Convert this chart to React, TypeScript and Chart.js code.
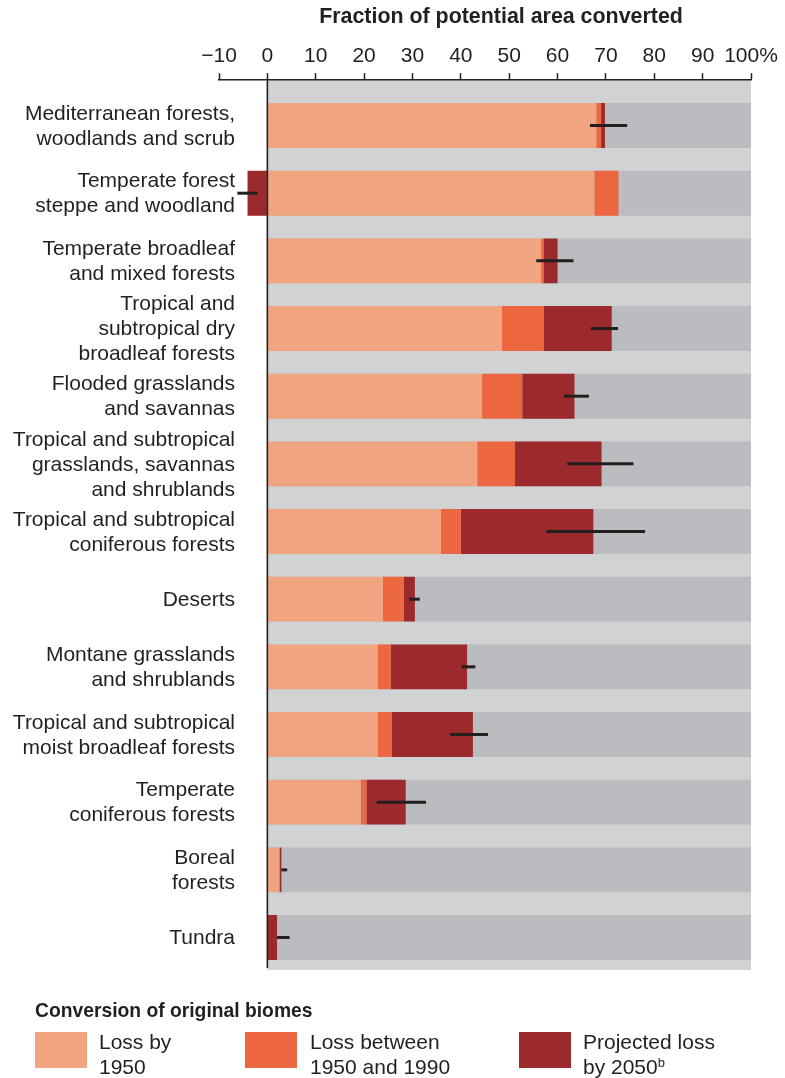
import React, { useEffect, useRef } from "react";
import { Chart, registerables } from "chart.js";

Chart.register(...registerables);

// ---------- data ----------
const biomeLabels: string[][] = [
  ["Mediterranean forests,", "woodlands and scrub"],
  ["Temperate forest", "steppe and woodland"],
  ["Temperate broadleaf", "and mixed forests"],
  ["Tropical and", "subtropical dry", "broadleaf forests"],
  ["Flooded grasslands", "and savannas"],
  ["Tropical and subtropical", "grasslands, savannas", "and shrublands"],
  ["Tropical and subtropical", "coniferous forests"],
  ["Deserts"],
  ["Montane grasslands", "and shrublands"],
  ["Tropical and subtropical", "moist broadleaf forests"],
  ["Temperate", "coniferous forests"],
  ["Boreal", "forests"],
  ["Tundra"],
];

const lossBy1950 = [68.0, 67.6, 56.6, 48.5, 44.4, 43.4, 35.9, 23.9, 22.8, 22.8, 19.3, 2.5, 0];
const loss1950to1990 = [1.0, 5.0, 0.5, 8.6, 8.3, 7.8, 4.1, 4.3, 2.7, 2.9, 1.2, 0, 0];
const projectedLoss2050 = [0.8, -4.1, 2.9, 14.1, 10.8, 17.9, 27.4, 2.3, 15.8, 16.8, 8.1, 0.4, 2.0];
const errorLow = [66.7, -6.2, 55.6, 66.9, 61.3, 62.0, 57.7, 29.3, 40.2, 37.8, 22.6, 2.9, 2.0];
const errorHigh = [74.4, -2.0, 63.3, 72.5, 66.5, 75.7, 78.1, 31.5, 43.0, 45.6, 32.8, 4.1, 4.6];
const potentialArea = [100, 100, 100, 100, 100, 100, 100, 100, 100, 100, 100, 100, 100];

const xTickValues = [-10, 0, 10, 20, 30, 40, 50, 60, 70, 80, 90, 100];

const axisTitle = "Fraction of potential area converted";
const legendTitle = "Conversion of original biomes";

// ---------- styles ----------
const FONT = '"Liberation Sans", Arial, Helvetica, sans-serif';
const TEXT = "#231f20";
const C_1950 = "#f0a580";
const C_1990 = "#ec6640";
const C_2050 = "#9c292c";
const C_REMAIN = "#bbbcbf";
const C_BAND = "#d1d2d4";

const toPoints = (arr: number[]) => arr.map((v, i) => ({ x: v, y: i }));

const overlayPlugin = {
  id: "biomeOverlay",
  beforeDatasetsDraw(chart: any) {
    const { ctx, chartArea, scales } = chart;
    const xs = scales.x;
    const x0 = xs.getPixelForValue(0);
    const x100 = xs.getPixelForValue(100);
    ctx.save();
    ctx.fillStyle = C_BAND;
    ctx.fillRect(x0, chartArea.top, x100 - x0, chartArea.bottom - chartArea.top);
    ctx.restore();
  },
  afterDatasetsDraw(chart: any) {
    const { ctx, chartArea, scales } = chart;
    const xs = scales.x;
    const ys = scales.y;
    ctx.save();
    // zero line
    const x0 = xs.getPixelForValue(0);
    ctx.strokeStyle = TEXT;
    ctx.lineWidth = 1.6;
    ctx.beginPath();
    ctx.moveTo(x0, chartArea.top);
    ctx.lineTo(x0, chartArea.bottom - 2);
    ctx.stroke();
    // error bars
    ctx.lineWidth = 3;
    ctx.lineCap = "butt";
    for (let i = 0; i < errorLow.length; i++) {
      const y = ys.getPixelForValue(i);
      ctx.beginPath();
      ctx.moveTo(xs.getPixelForValue(errorLow[i]), y);
      ctx.lineTo(xs.getPixelForValue(errorHigh[i]), y);
      ctx.stroke();
    }
    ctx.restore();
  },
  afterDraw(chart: any) {
    const { ctx, chartArea, scales } = chart;
    const ys = scales.y;
    ctx.save();
    ctx.font = `21px ${FONT}`;
    ctx.fillStyle = TEXT;
    ctx.textAlign = "right";
    ctx.textBaseline = "middle";
    const lh = 25;
    const xRight = chartArea.left + 16;
    biomeLabels.forEach((lines, i) => {
      const yc = ys.getPixelForValue(i) + 1;
      const start = yc - ((lines.length - 1) * lh) / 2;
      lines.forEach((t, k) => ctx.fillText(t, xRight, start + k * lh));
    });
    ctx.restore();
  },
};

const legendItems = [
  { color: C_1950, lines: ["Loss by", "1950"], boxX: 35, textX: 99 },
  { color: C_1990, lines: ["Loss between", "1950 and 1990"], boxX: 245, textX: 310 },
  { color: C_2050, lines: ["Projected loss", "by 2050"], boxX: 519, textX: 583, sup: "b" },
];

export default function App() {
  const canvasRef = useRef<HTMLCanvasElement>(null);

  useEffect(() => {
    document.body.style.margin = "0";
    Chart.defaults.font.family = FONT;
    const canvas = canvasRef.current;
    if (!canvas) return;
    const barOpts = { categoryPercentage: 0.663, barPercentage: 1, borderWidth: 0 };
    const chart = new Chart(canvas, {
      type: "bar",
      data: {
        datasets: [
          { label: "Loss by 1950", data: toPoints(lossBy1950), backgroundColor: C_1950, stack: "loss", order: 0, ...barOpts },
          { label: "Loss between 1950 and 1990", data: toPoints(loss1950to1990), backgroundColor: C_1990, stack: "loss", order: 0, ...barOpts },
          { label: "Projected loss by 2050", data: toPoints(projectedLoss2050), backgroundColor: C_2050, stack: "loss", order: 0, ...barOpts },
          { label: "Potential area", data: toPoints(potentialArea), backgroundColor: C_REMAIN, stack: "bg", grouped: false, order: 1, ...barOpts } as any,
        ],
      },
      options: {
        indexAxis: "y",
        responsive: false,
        animation: false,
        events: [],
        layout: { padding: { left: 219, right: 34, top: 40, bottom: 108 } },
        plugins: { legend: { display: false }, tooltip: { enabled: false }, title: { display: false } },
        scales: {
          x: {
            type: "linear",
            position: "top",
            min: -10,
            max: 100,
            stacked: true,
            offset: false,
            afterBuildTicks: (scale: any) => {
              scale.ticks = xTickValues.map((v) => ({ value: v }));
            },
            grid: { drawOnChartArea: false, drawTicks: true, tickLength: 7, tickColor: TEXT, tickWidth: 1.5, offset: false } as any,
            border: { display: true, color: TEXT, width: 1.5, z: 1 } as any,
            ticks: {
              padding: 4,
              color: TEXT,
              font: { size: 21, family: FONT },
              maxRotation: 0,
              autoSkip: false,
              callback: (v: any) => {
                const n = Number(v);
                if (n < 0) return "\u2212" + Math.abs(n);
                if (n === 100) return "100%";
                return String(n);
              },
            },
          },
          y: {
            type: "linear",
            display: false,
            reverse: true,
            offset: false,
            min: -0.67,
            max: 12.48,
            stacked: true,
            ticks: { stepSize: 1, includeBounds: false },
            grid: { display: false, offset: false },
          },
        },
      },
      plugins: [overlayPlugin],
    } as any);
    return () => chart.destroy();
  }, []);

  return (
    <div style={{ position: "relative", width: 785, height: 1078, fontFamily: FONT, color: TEXT, overflow: "hidden" }}>
      <canvas ref={canvasRef} width={785} height={1078} style={{ position: "absolute", left: 0, top: 0 }} />
      <div
        style={{
          position: "absolute",
          left: 501,
          top: 4,
          transform: "translateX(-50%)",
          whiteSpace: "nowrap",
          fontWeight: "bold",
          fontSize: 21.4,
          lineHeight: "24px",
        }}
      >
        {axisTitle}
      </div>
      <div
        style={{
          position: "absolute",
          left: 35,
          top: 999,
          whiteSpace: "nowrap",
          fontWeight: "bold",
          fontSize: 19.3,
          lineHeight: "24px",
        }}
      >
        {legendTitle}
      </div>
      {legendItems.map((it, i) => (
        <React.Fragment key={i}>
          <div style={{ position: "absolute", left: it.boxX, top: 1032, width: 52, height: 36, background: it.color }} />
          <div style={{ position: "absolute", left: it.textX, top: 1029, fontSize: 21, lineHeight: "25px", whiteSpace: "nowrap" }}>
            <div>{it.lines[0]}</div>
            <div>
              {it.lines[1]}
              {it.sup ? <sup style={{ fontSize: 13, lineHeight: 0, verticalAlign: "7px" }}>{it.sup}</sup> : null}
            </div>
          </div>
        </React.Fragment>
      ))}
    </div>
  );
}
